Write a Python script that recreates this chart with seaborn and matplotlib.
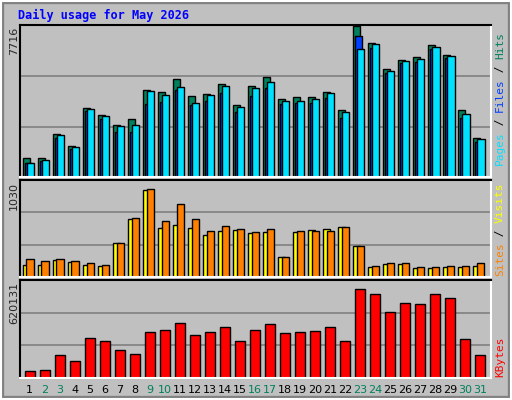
import matplotlib
matplotlib.use("Agg")
import matplotlib.pyplot as plt
import seaborn as sns
import numpy as np
import pandas as pd
from matplotlib.patches import Rectangle

sns.set_style("white")
plt.rcParams['font.family'] = ['DejaVu Sans']

days = list(range(1, 32))
hits = [955, 955, 2180, 1600, 3510, 3150, 2640, 2950, 4430, 4330, 4990, 4120, 4225, 4735, 3665, 4635,
        5095, 3970, 4070, 4070, 4330, 3410, 7716, 6830, 5505, 5965, 6115, 6730, 6220, 3410, 1980]
files = [700, 853, 2130, 1515, 3460, 3100, 2590, 2640, 4380, 4175, 4585, 3765, 4175, 4635, 3560, 4530,
         4840, 3870, 3870, 3970, 4275, 3305, 6525, 6780, 5400, 5910, 6015, 6630, 6170, 3205, 1925]
pages = [690, 815, 1980, 1415, 3360, 2950, 2285, 2300, 3715, 3815, 4430, 3665, 3885, 4275, 3305, 4120,
         4530, 3715, 3765, 3765, 4020, 3000, 7190, 6575, 5300, 5810, 5860, 6525, 6065, 3000, 1805]
sites = [130, 130, 193, 161, 130, 119, 371, 644, 959, 539, 571, 539, 466, 508, 518, 487,
         497, 224, 497, 518, 529, 550, 340, 109, 140, 140, 98, 98, 109, 109, 119]
visits = [203, 172, 203, 182, 151, 130, 371, 655, 970, 623, 802, 644, 508, 560, 529, 497,
          529, 224, 508, 508, 508, 550, 340, 119, 151, 151, 109, 109, 119, 119, 151]
kbytes = [47700, 54000, 152000, 113000, 269000, 243000, 184000, 158000, 308000, 321000, 366000, 288000,
          308000, 340000, 249000, 321000, 360000, 301000, 308000, 314000, 340000, 243000, 594000, 555000,
          438000, 496000, 490000, 561000, 529000, 262000, 152000]
weekend = [2, 3, 9, 10, 16, 17, 23, 24, 30, 31]
max_hits, max_visits, max_kb = 7716, 1030, 620131

df = pd.DataFrame(dict(day=days, hits=hits, files=files, pages=pages,
                       sites=sites, visits=visits, kbytes=kbytes))

W, H = 512, 400
BG = "#c0c0c0"
fig = plt.figure(figsize=(W / 100, H / 100), dpi=100, facecolor=BG)

def add_ax(x0, y0, x1, y1):
    ax = fig.add_axes([x0 / W, 1 - y1 / H, (x1 - x0) / W, (y1 - y0) / H])
    ax.set_facecolor(BG)
    for s in ["left", "top"]:
        ax.spines[s].set_color("black"); ax.spines[s].set_linewidth(1.5)
    for s in ["right", "bottom"]:
        ax.spines[s].set_color("white"); ax.spines[s].set_linewidth(1.5)
    ax.set_xlim(0.35, 31.72)
    ax.set_yticks([]); ax.set_xticks([])
    return ax

# figure bevel
fig.patches.append(Rectangle((0, 0), 1, 1, transform=fig.transFigure, fill=False,
                             edgecolor="#808080", linewidth=6, zorder=-1))
fig.patches.append(Rectangle((0.002, 0.002), 0.996, 0.996, transform=fig.transFigure, fill=False,
                             edgecolor="white", linewidth=1.5, zorder=0))

ax1 = add_ax(20, 25, 491, 177)
ax2 = add_ax(20, 180, 491, 277)
ax3 = add_ax(20, 280, 491, 378)

x = np.array(days, dtype=float)
ek = dict(edgecolor="black", linewidth=1, align="edge")

# top panel
ax1.set_ylim(0, max_hits * 1.005)
for v in [max_hits / 3, 2 * max_hits / 3]:
    ax1.axhline(v, color="#808080", lw=1.2, zorder=0)
ax1.bar(x - 0.47, df.hits, width=0.49, color="#00805c", **ek)
ax1.bar(x - 0.33, df.pages, width=0.45, color="#0040ff", **ek)
ax1.bar(x - 0.20, df.files, width=0.49, color="#00e0ff", **ek)

# middle panel
top2 = max_visits * 1.04
ax2.set_ylim(0, top2)
for v in [top2 / 3, 2 * top2 / 3]:
    ax2.axhline(v, color="#808080", lw=1.2, zorder=0)
ax2.bar(x - 0.47, df.sites, width=0.45, color="#ffff00", **ek)
ax2.bar(x - 0.22, df.visits, width=0.49, color="#ff8000", **ek)

# bottom panel
top3 = max_kb * 1.05
ax3.set_ylim(0, top3)
for v in [top3 / 3, 2 * top3 / 3]:
    ax3.axhline(v, color="#808080", lw=1.2, zorder=0)
sns.barplot(data=df, x="day", y="kbytes", native_scale=True, color="#ff0000",
            edgecolor="black", linewidth=1, width=0.7, saturation=1, ax=ax3, zorder=2)
ax3.set_xlim(0.35, 31.72)
ax3.set_xlabel(""); ax3.set_ylabel("")
ax3.set_yticks([])
ax3.set_xticks(days)
ax3.set_xticklabels([str(d) for d in days], fontsize=8)
ax3.tick_params(axis="x", length=0, pad=5)
for lbl, d in zip(ax3.get_xticklabels(), days):
    lbl.set_color("#00805c" if d in weekend else "black")

fig.text(18 / W, 1 - 15 / H, "Daily usage for May 2026", color="#0000ff", fontsize=8.5,
         fontweight="bold", family="DejaVu Sans Mono", va="center")
for y, t in [(25, "7716"), (180, "1030"), (280, "620131")]:
    fig.text(14 / W, 1 - (y + 2) / H, t, rotation=90, fontsize=8, ha="center", va="top")

def side(parts, y_bottom):
    yy = y_bottom
    for t, c in parts:
        tx = fig.text(500 / W, 1 - yy / H, t, rotation=90, color=c, fontsize=8,
                      family="DejaVu Sans Mono", ha="center", va="bottom")
        yy -= len(t) * 6.6

side([("Pages", "#00e0ff"), (" / ", "#000000"), ("Files", "#0040ff"), (" / ", "#000000"),
      ("Hits", "#00805c")], 165)
side([("Sites", "#ff8000"), (" / ", "#000000"), ("Visits", "#ffff00")], 276)
side([("KBytes", "#ff0000")], 377)

fig.savefig("out.png", dpi=100, facecolor=BG)
